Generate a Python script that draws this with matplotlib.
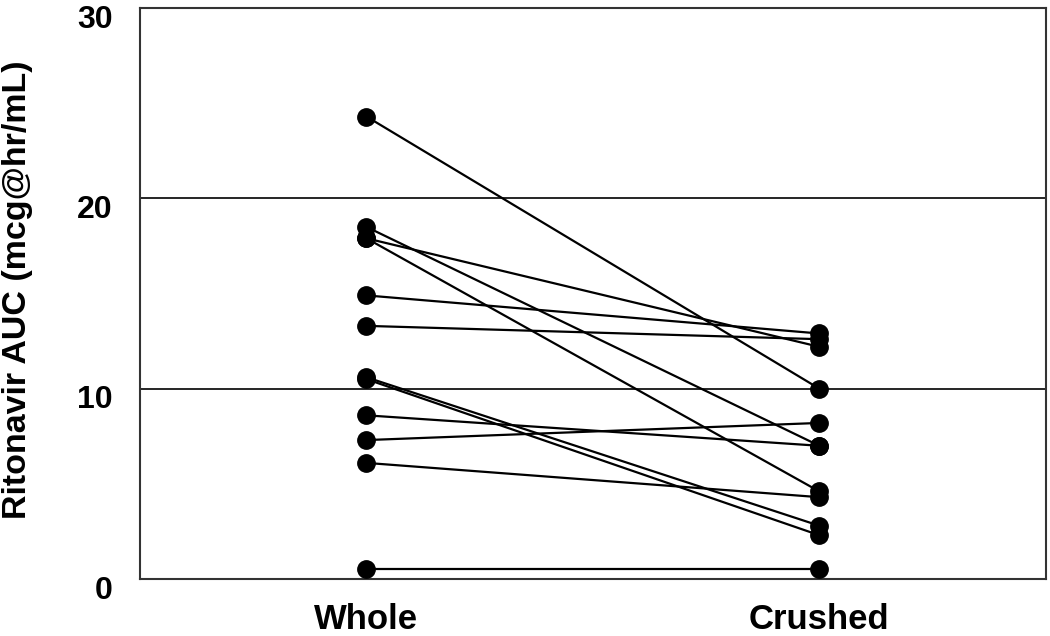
import matplotlib
matplotlib.use("Agg")
import matplotlib.pyplot as plt
import matplotlib.transforms as mtransforms

categories = ["Whole", "Crushed"]
whole = [24.3, 18.5, 17.9, 17.9, 14.9, 13.3, 10.6, 10.5, 8.6, 7.3, 6.1, 0.5]
crushed = [10.0, 7.0, 12.2, 4.6, 12.9, 12.6, 2.8, 2.3, 7.0, 8.2, 4.3, 0.5]
yticks = [0, 10, 20, 30]
ylabel = "Ritonavir AUC (mcg@hr/mL)"

plt.rcParams['font.family'] = ['Liberation Sans', 'DejaVu Sans']

fig = plt.figure(figsize=(10.5, 6.36), dpi=100)
ax = fig.add_axes([0.1333, 0.0896, 0.8627, 0.8978])

xs = [1, 2]
for w, c in zip(whole, crushed):
    ax.plot(xs, [w, c], color='black', lw=1.6, marker='o', markersize=12.5,
            markerfacecolor='black', markeredgecolor='black', zorder=3)

ax.set_xlim(0.5, 2.5)
ax.set_ylim(0, 30)
ax.set_yticks(yticks)
ax.set_yticklabels([str(t) for t in yticks], fontsize=23, fontweight='bold')
ax.set_xticks(xs)
ax.set_xticklabels(categories, fontsize=25, fontweight='bold')
ax.tick_params(axis='both', length=0)
ax.tick_params(axis='y', pad=19.5)
ax.tick_params(axis='x', pad=17)
offset = mtransforms.ScaledTranslation(0, -8 / 100, fig.dpi_scale_trans)
for lbl in ax.get_yticklabels():
    lbl.set_transform(lbl.get_transform() + offset)
for t in [10, 20]:
    ax.axhline(t, color='black', lw=1.2, zorder=1)
for s in ax.spines.values():
    s.set_color('#333333')
    s.set_linewidth(1.5)
ax.set_ylabel(ylabel, fontsize=24.5, fontweight='bold')
ax.yaxis.set_label_coords(-0.118, 0.507)

fig.savefig("out.png", dpi=100)
